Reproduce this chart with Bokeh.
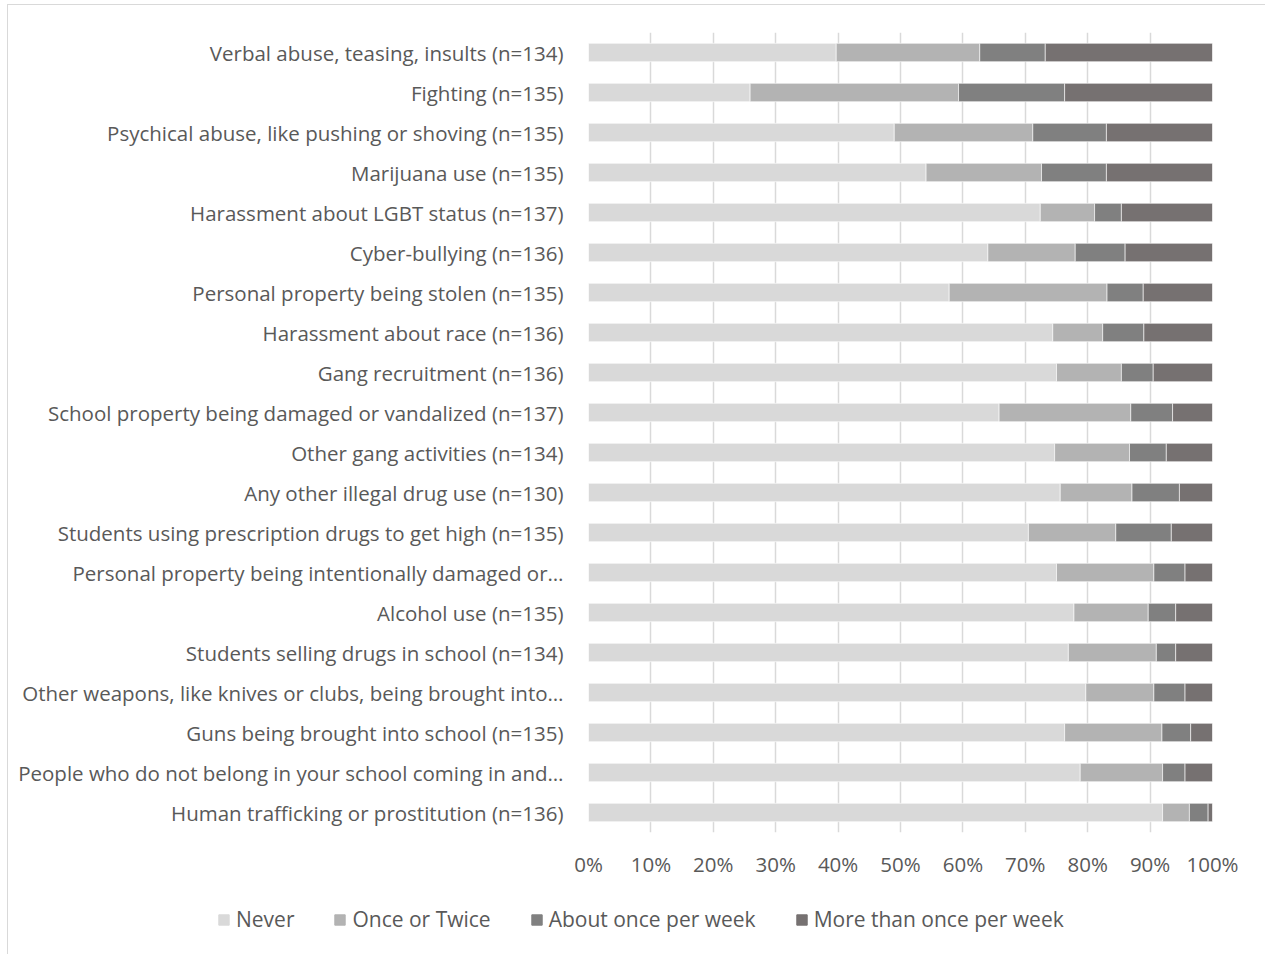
from bokeh.plotting import figure
from bokeh.models import (ColumnDataSource, FactorRange, FixedTicker, PrintfTickFormatter,
                          Legend, LegendItem)
from bokeh.embed import file_html
from bokeh.resources import INLINE

# Survey items, top to bottom
categories = [
    "Verbal abuse, teasing, insults (n=134)",
    "Fighting (n=135)",
    "Psychical abuse, like pushing or shoving (n=135)",
    "Marijuana use (n=135)",
    "Harassment about LGBT status (n=137)",
    "Cyber-bullying (n=136)",
    "Personal property being stolen (n=135)",
    "Harassment about race (n=136)",
    "Gang recruitment (n=136)",
    "School property being damaged or vandalized (n=137)",
    "Other gang activities (n=134)",
    "Any other illegal drug use (n=130)",
    "Students using prescription drugs to get high (n=135)",
    "Personal property being intentionally damaged or\u2026",
    "Alcohol use (n=135)",
    "Students selling drugs in school (n=134)",
    "Other weapons, like knives or clubs, being brought into\u2026",
    "Guns being brought into school (n=135)",
    "People who do not belong in your school coming in and\u2026",
    "Human trafficking or prostitution (n=136)",
]

# Percent of responses per frequency
never = [39.7, 25.9, 49.0, 54.1, 72.4, 64.0, 57.8, 74.4, 75.0, 65.8,
         74.7, 75.6, 70.5, 75.0, 77.8, 76.9, 79.7, 76.3, 78.8, 92.0]
once_or_twice = [23.0, 33.4, 22.2, 18.5, 8.7, 14.0, 25.3, 8.0, 10.4, 21.1,
                 12.0, 11.5, 14.0, 15.6, 11.9, 14.1, 10.9, 15.6, 13.2, 4.3]
about_once_week = [10.5, 17.0, 11.8, 10.4, 4.3, 8.0, 5.8, 6.6, 5.1, 6.7,
                   5.9, 7.6, 8.9, 5.0, 4.4, 3.1, 5.0, 4.6, 3.6, 3.0]
more_than_once_week = [26.8, 23.7, 17.0, 17.0, 14.6, 14.0, 11.1, 11.0, 9.5, 6.4,
                       7.4, 5.3, 6.6, 4.4, 5.9, 5.9, 4.4, 3.5, 4.4, 0.7]

series_names = ["Never", "Once or Twice", "About once per week", "More than once per week"]
series_keys = ["never", "once", "about", "more"]
colors = ["#d9d9d9", "#b3b3b3", "#808080", "#767171"]
tick_values = list(range(0, 101, 10))

source = ColumnDataSource(dict(
    cat=categories, never=never, once=once_or_twice,
    about=about_once_week, more=more_than_once_week,
))

FONT = "Open Sans"
AXIS_FONT_SIZE = "20.5px"
LEGEND_FONT_SIZE = "21px"
TEXT = "#595959"
BORDER = "1px solid #d9d9d9"

p = figure(
    width=1258, height=875,
    y_range=FactorRange(*reversed(categories), range_padding=0),
    x_range=(0, 100),
    output_backend="svg", toolbar_location=None,
    min_border_left=580, min_border_right=54,
    min_border_top=27, min_border_bottom=45,
)
p.outline_line_color = None
p.background_fill_color = "white"
p.border_fill_color = "white"
p.styles = {"margin-left": "7px", "margin-top": "4px",
            "border-left": BORDER, "border-top": BORDER}

renderers = p.hbar_stack(series_keys, y="cat", height=0.46, color=colors,
                         line_color="white", line_width=0.6, source=source)

# axes
p.xaxis.ticker = FixedTicker(ticks=tick_values)
p.xaxis.formatter = PrintfTickFormatter(format="%d%%")
p.xaxis.axis_line_color = None
p.xaxis.major_tick_line_color = None
p.xaxis.minor_tick_line_color = None
p.xaxis.major_tick_out = 0
p.xaxis.major_tick_in = 0
p.xaxis.major_label_text_font = FONT
p.xaxis.major_label_text_font_size = AXIS_FONT_SIZE
p.xaxis.major_label_text_color = TEXT
p.xaxis.major_label_standoff = 17

p.yaxis.axis_line_color = None
p.yaxis.major_tick_line_color = None
p.yaxis.minor_tick_line_color = None
p.yaxis.major_tick_out = 0
p.yaxis.major_tick_in = 0
p.yaxis.major_label_text_font = FONT
p.yaxis.major_label_text_font_size = AXIS_FONT_SIZE
p.yaxis.major_label_text_color = TEXT
p.yaxis.major_label_standoff = 25

p.xgrid.grid_line_color = "#d9d9d9"
p.xgrid.grid_line_width = 1.5
p.xgrid.ticker = FixedTicker(ticks=tick_values)
p.ygrid.grid_line_color = None

# legend strip under the chart; hidden swatch renderers carry the bar colours
leg = figure(width=1258, height=75, x_range=(0, 1), y_range=(0, 1),
             output_backend="svg", toolbar_location=None,
             min_border_left=0, min_border_right=0, min_border_top=0, min_border_bottom=0)
leg.axis.visible = False
leg.grid.visible = False
leg.outline_line_color = None
leg.border_fill_color = "white"
leg.styles = {"margin-left": "7px", "border-left": BORDER}
swatches = [leg.hbar(y=[0.5], left=[0], right=[0], height=0.5, color=c, visible=False)
            for c in colors]

legend = Legend(
    items=[LegendItem(label=n, renderers=[r]) for n, r in zip(series_names, swatches)],
    orientation="horizontal",
    location=(209, 21),
    glyph_width=13, glyph_height=13,
    label_standoff=6, spacing=39,
    label_text_font=FONT, label_text_font_size=LEGEND_FONT_SIZE, label_text_color=TEXT,
    border_line_color=None, background_fill_alpha=0,
    padding=0, margin=0,
)
leg.add_layout(legend, "center")

open("out.html", "w").write(file_html([p, leg], INLINE))
